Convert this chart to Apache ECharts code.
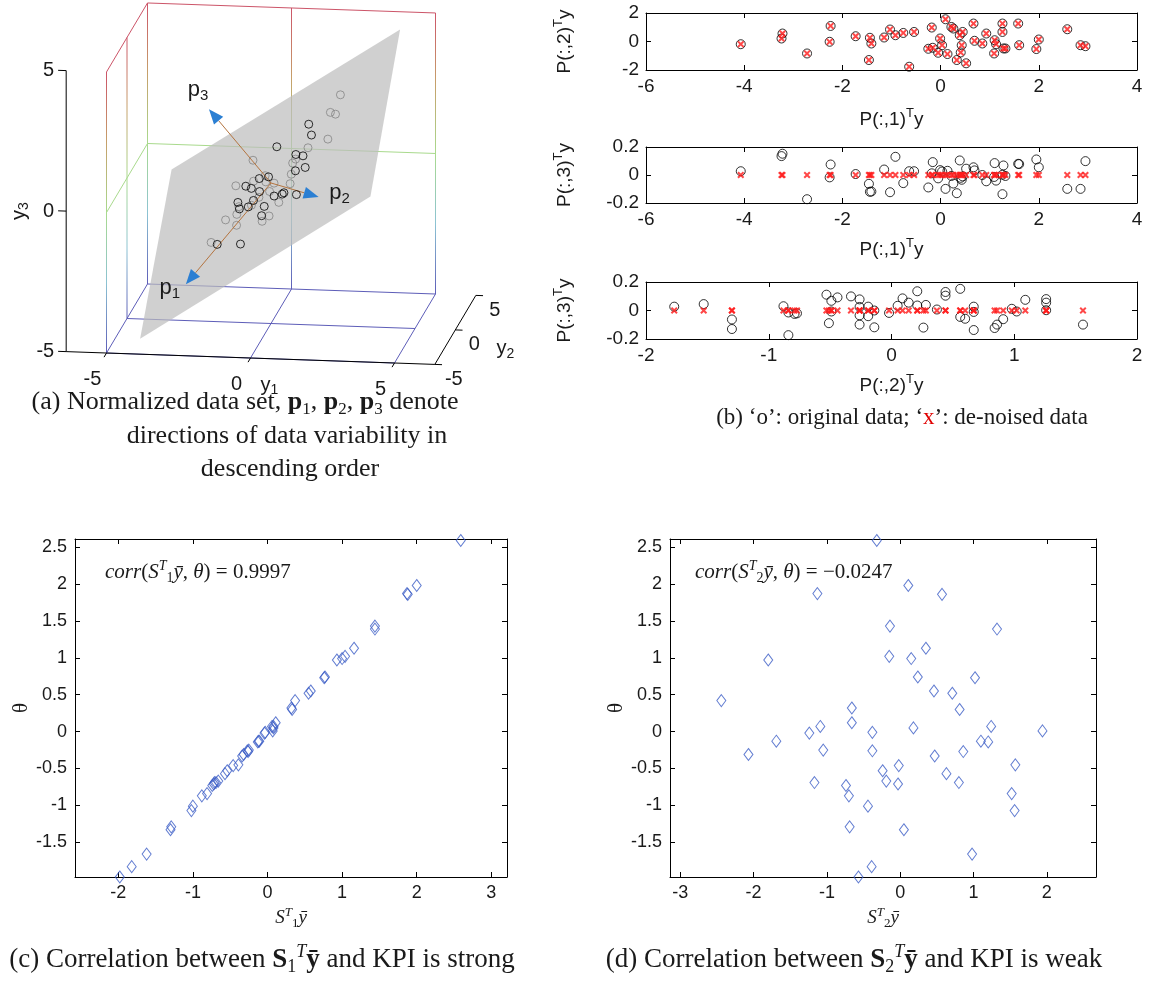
<!DOCTYPE html>
<html><head><meta charset="utf-8">
<script src="https://cdn.jsdelivr.net/npm/echarts@6/dist/echarts.min.js"></script>
<style>html,body{margin:0;padding:0;background:#fff}#c{width:1150px;height:983px}</style>
</head><body><div id="c"></div>
<script>
// ================= DATA =================
// Panel (b): principal-component scores of every sample: P(:,1)'y, P(:,2)'y, P(:,3)'y
const score1 = [-4.07,-3.22,-3.24,-2.72,-2.24,-2.26,-1.73,-1.44,-1.41,-1.46,-1.15,-1.03,-0.92,-0.76,-0.54,-0.64,-0.18,-0.25,-0.16,-0.05,-0.01,0.03,0.10,0.14,0.22,0.26,0.39,0.45,0.43,0.41,0.33,0.52,0.67,0.69,0.85,0.93,1.10,1.13,1.09,1.26,1.26,1.28,1.32,1.58,1.60,1.95,2.00,2.58,2.85,2.95];
const score2 = [-0.19,0.56,0.21,-0.84,1.09,-0.02,0.37,0.26,-0.14,-1.30,0.28,0.84,0.44,0.60,0.67,-1.77,0.98,-0.51,-0.44,-0.79,0.21,-0.26,1.56,-0.88,1.02,0.91,0.44,0.67,-0.26,-0.77,-1.30,-1.53,1.26,0.05,-0.14,0.56,0.09,-0.19,-0.84,1.26,0.67,-0.49,-0.49,1.26,-0.26,-0.53,0.14,0.86,-0.26,-0.33];
const score3 = [0.027,0.152,0.135,-0.173,0.075,-0.017,0.007,-0.120,-0.118,-0.063,0.039,-0.123,0.130,-0.058,0.027,0.027,0.012,-0.089,0.092,-0.024,0.035,0.025,-0.099,0.030,-0.007,-0.061,0.104,-0.010,-0.034,-0.020,-0.130,0.045,0.055,0.033,0.000,-0.045,0.085,-0.040,-0.014,0.002,-0.137,0.068,-0.007,0.080,0.078,0.111,0.055,-0.099,-0.099,0.099];
// Panel (a): principal directions (unit vectors in y1,y2,y3 space), arrow lengths, plane patch corners (p1,p2 coords)
const dirP1 = [-0.547,-0.530,-0.648];
const dirP2 = [0.675,-0.736,0.032];
const dirP3 = [-0.494,-0.420,0.761];
const arrowLen = [4.75,2.9,3.89];
const planeCorners = [[-7.2,0],[-0.6,5.4],[7.3,0],[0.6,-5.4]];
const cubeLimits = [-5,5];
const y1AxisLimits = [-6.4,6.4];
const ticks3D = [-5,0,5];
// Panel (b) ticks
const tickB1x = [-6,-4,-2,0,2,4], tickB1y = [-2,0,2], tickB2y = [-0.2,0,0.2], tickB3x = [-2,-1,0,1,2];
// Panels (c),(d): KPI theta, S1'ybar and S2'ybar of each sample
const theta = [2.59,1.98,1.87,1.86,1.43,1.39,1.13,1.02,0.99,0.97,0.74,0.73,0.55,0.52,0.42,0.32,0.30,0.12,0.07,0.07,0.05,0.01,-0.01,-0.02,-0.13,-0.13,-0.14,-0.25,-0.26,-0.27,-0.31,-0.33,-0.45,-0.46,-0.53,-0.57,-0.67,-0.69,-0.69,-0.71,-0.73,-0.84,-0.87,-1.01,-1.07,-1.29,-1.33,-1.66,-1.83,-1.97];
const s1y = [2.59,2.00,1.87,1.88,1.44,1.44,1.16,1.04,1.00,0.93,0.77,0.76,0.58,0.55,0.37,0.32,0.33,0.11,0.08,0.06,0.08,0.07,-0.03,-0.04,-0.12,-0.11,-0.13,-0.25,-0.27,-0.26,-0.32,-0.34,-0.39,-0.46,-0.54,-0.57,-0.66,-0.69,-0.71,-0.72,-0.74,-0.81,-0.88,-1.00,-1.02,-1.29,-1.30,-1.62,-1.82,-1.98];
const s2y = [-0.32,0.11,-1.13,0.57,-0.14,1.32,0.35,-0.15,0.15,-1.80,0.24,1.02,0.46,0.71,-2.44,-0.66,0.81,-0.66,-1.09,1.24,0.18,1.94,-0.38,-1.24,-1.69,1.10,1.20,-1.05,-0.38,0.86,-2.07,0.47,1.57,-0.02,-0.24,0.63,-0.19,-1.17,0.80,-0.03,-0.74,1.52,-0.70,-0.44,1.56,-0.69,0.05,0.98,-0.39,-0.57];
const tickCx = [-2,-1,0,1,2,3], tickDx = [-3,-2,-1,0,1,2], tickTheta = [-1.5,-1,-0.5,0,0.5,1,1.5,2,2.5];

// ================= HELPERS =================
const SANS = '"Liberation Sans", Arial, sans-serif';
const SERIF = '"Liberation Serif", "Times New Roman", serif';
const INK = '#1a1a1a';
// 3-D view (orthographic): y-space -> view-plane coordinates (u, w)
function proj(v){ return [v[0] + 0.1424*v[1], -0.0356*v[0] + 0.2456*v[1] + v[2]]; }
function comb(a,b,c){ return [0,1,2].map(i => a*dirP1[i] + b*dirP2[i] + c*dirP3[i]); }
const zStops = [[5,'#cc5468'],[2.5,'#c6a06a'],[0,'#a9da8d'],[-2.5,'#8cc3d3'],[-5,'#5d5db8']];
function zColor(z){ let best = zStops[0]; zStops.forEach(s => { if (Math.abs(s[0]-z) < Math.abs(best[0]-z)) best = s; }); return best[1]; }

const grids = [], xAxes = [], yAxes = [], series = [];
function mkAxis(gi, pos, o, main, isX){
  return {
    type:'value', gridIndex:gi, position:pos, min:o.min, max:o.max,
    splitLine:{show:false},
    axisLine:{show:true, onZero:false, lineStyle:{color:'#000', width:1}},
    axisTick:{show:true, inside:true, length:5, customValues:o.ticks, lineStyle:{color:'#000'}},
    axisLabel:{show:main, customValues:o.ticks, color:INK, fontFamily:SANS, fontSize:o.fs, margin:o.margin},
    name: main ? o.name : '', nameLocation:'middle', nameGap:o.nameGap||0,
    nameRotate: isX ? 0 : 90,
    nameTextStyle: o.nameStyle || {}
  };
}
function addBox(grid, xo, yo){
  const gi = grids.length; grids.push(Object.assign({containLabel:false}, grid));
  const xi = xAxes.length, yi = yAxes.length;
  xAxes.push(mkAxis(gi,'bottom',xo,true,true), mkAxis(gi,'top',xo,false,true));
  yAxes.push(mkAxis(gi,'left',yo,true,false), mkAxis(gi,'right',yo,false,false));
  return {xi, yi};
}
const supRich = {
  t:{fontFamily:SANS, fontSize:19, lineHeight:26, verticalAlign:'middle', color:INK},
  s:{fontFamily:SANS, fontSize:13, lineHeight:13, verticalAlign:'top', color:INK}
};
const pName = (a) => '{t|P(:,' + a + ')}{s|T}{t|y}';
const xMark = 'path://M0,2L2,0L5,3L8,0L10,2L7,5L10,8L8,10L5,7L2,10L0,8L3,5Z';

// ================= PANEL (a) =================
grids.push({left:0, top:0, width:540, height:400});
xAxes.push({type:'value', gridIndex:0, min:-9.41, max:9.34, show:false});
yAxes.push({type:'value', gridIndex:0, min:-7.722, max:6.512, show:false});
const [L0,L1] = cubeLimits, LM = (L0+L1)/2;
const cubeSegs = [
  [L0,L0,L0, L0,L0,L1],[L0,L1,L0, L0,L1,L1],[L1,L1,L0, L1,L1,L1],[L0,LM,L0, L0,LM,L1],[LM,L1,L0, LM,L1,L1],
  [L0,L0,L1, L0,L1,L1],[L0,L1,L1, L1,L1,L1],
  [L0,L0,LM, L0,L1,LM],[L0,L1,LM, L1,L1,LM],
  [L0,L0,L0, L1,L0,L0],[L1,L0,L0, L1,L1,L0],[L1,L1,L0, L0,L1,L0],[L0,L1,L0, L0,L0,L0],[LM,L0,L0, LM,L1,L0],[L0,LM,L0, L1,LM,L0]
];
series.push({
  type:'custom', z:1, xAxisIndex:0, yAxisIndex:0, silent:true, clip:false, data:cubeSegs,
  renderItem:(p, api) => {
    const s = cubeSegs[p.dataIndex];
    const a = api.coord(proj([s[0],s[1],s[2]])), b = api.coord(proj([s[3],s[4],s[5]]));
    let stroke;
    if (s[2] !== s[5]) {
      const stops = zStops.map(z => ({offset:(z[0]-s[2])/(s[5]-s[2]), color:z[1]})).sort((m,n)=>m.offset-n.offset);
      stroke = new echarts.graphic.LinearGradient(a[0],a[1],b[0],b[1],stops,true);
    } else stroke = zColor(s[2]);
    return {type:'line', shape:{x1:a[0],y1:a[1],x2:b[0],y2:b[1]}, style:{stroke, lineWidth:1}};
  }
});
// samples on the far side of the p1-p2 plane (positive p3 score, seen through the plane) vs. near side
const ptsBack = [], ptsFront = [];
score1.forEach((s,i) => { const q = proj(comb(s, score2[i], score3[i])); (score3[i] > 0 ? ptsBack : ptsFront).push(q); });
const circStyle = {color:'rgba(0,0,0,0)', borderColor:'#000', borderWidth:1};
series.push({type:'scatter', z:2, xAxisIndex:0, yAxisIndex:0, data:ptsBack, symbol:'circle', symbolSize:8, itemStyle:circStyle, silent:true, clip:false});
series.push({
  type:'custom', z:3, xAxisIndex:0, yAxisIndex:0, silent:true, clip:false, data:[[0,0]],
  renderItem:(p, api) => ({type:'polygon', shape:{points: planeCorners.map(c => api.coord(proj(comb(c[0],c[1],0))))},
    style:{fill:'#bcbcbc', opacity:0.7}})
});
const arrowDirs = [dirP1, dirP2, dirP3];
const arrowLabelOff = [[-16,4],[21,-4],[-11,-19]];
series.push({
  type:'custom', z:4, xAxisIndex:0, yAxisIndex:0, silent:true, clip:false, data:[[0,0],[0,0],[0,0]],
  renderItem:(p, api) => {
    const k = p.dataIndex, d = arrowDirs[k], L = arrowLen[k];
    const O = api.coord(proj([0,0,0])), T = api.coord(proj(d.map(v => v*L)));
    const dx = T[0]-O[0], dy = T[1]-O[1], len = Math.hypot(dx,dy), ux = dx/len, uy = dy/len;
    const B = [T[0]-15*ux, T[1]-15*uy], nx = -uy, ny = ux;
    const lab = arrowLabelOff[k];
    return {type:'group', children:[
      {type:'line', shape:{x1:O[0],y1:O[1],x2:B[0],y2:B[1]}, style:{stroke:'#b4743f', lineWidth:1}},
      {type:'polygon', shape:{points:[T,[B[0]+6*nx,B[1]+6*ny],[B[0]-6*nx,B[1]-6*ny]]}, style:{fill:'#2b7fd3'}},
      {type:'text', x:T[0]+lab[0], y:T[1]+lab[1], style:{text:'{a|p}{b|' + (k+1) + '}', align:'center', verticalAlign:'middle',
        rich:{a:{fontFamily:SANS, fontSize:22, lineHeight:26, verticalAlign:'middle', fill:INK},
              b:{fontFamily:SANS, fontSize:15, lineHeight:15, verticalAlign:'bottom', fill:INK}}}}
    ]};
  }
});
series.push({type:'scatter', z:5, xAxisIndex:0, yAxisIndex:0, data:ptsFront, symbol:'circle', symbolSize:8, itemStyle:circStyle, silent:true, clip:false});
series.push({
  type:'custom', z:6, xAxisIndex:0, yAxisIndex:0, silent:true, clip:false, data:[[0,0]],
  renderItem:(p, api) => {
    const P = v => api.coord(proj(v));
    const ch = [];
    const line = (a,b) => ch.push({type:'line', shape:{x1:a[0],y1:a[1],x2:b[0],y2:b[1]}, style:{stroke:'#000', lineWidth:1}});
    const text = (t, x, y, al) => ch.push({type:'text', x, y, style:{text:t, align:al, verticalAlign:'middle', fontFamily:SANS, fontSize:20, fill:INK}});
    const [a0,a1] = y1AxisLimits, c0 = cubeLimits[0], c1 = cubeLimits[1];
    line(P([a0,c0,c0]), P([a1,c0,c0]));
    line(P([a0,c0,c0]), P([a0,c0,c1]));
    line(P([a1,c0,c0]), P([a1,c1,c0]));
    ticks3D.forEach(t => {
      line(P([t,c0,c0]), P([t,c0-0.6,c0]));
      line(P([a0,c0,t]), P([a0-0.28,c0,t]));
      line(P([a1,t,c0]), P([a1+0.25,t,c0]));
      const q1 = P([t,c0,c0]); text(String(t), q1[0]-14, q1[1]+26, 'center');
      const q3 = P([a0,c0,t]); text(String(t), q3[0]-12, q3[1], 'right');
      const q2 = P([a1,t,c0]); text(String(t), q2[0]+19, q2[1]+15, 'center');
    });
    const rich = {a:{fontFamily:SANS, fontSize:20, lineHeight:24, verticalAlign:'middle', fill:INK},
                  b:{fontFamily:SANS, fontSize:14, lineHeight:14, verticalAlign:'bottom', fill:INK}};
    const t1 = P([0,c0,c0]); ch.push({type:'text', x:t1[0]+19, y:t1[1]+27, style:{text:'{a|y}{b|1}', rich, align:'center', verticalAlign:'middle'}});
    const t2 = P([a1,0,c0]); ch.push({type:'text', x:t2[0]+50, y:t2[1]+19, style:{text:'{a|y}{b|2}', rich, align:'center', verticalAlign:'middle'}});
    const t3 = P([a0,c0,0]); ch.push({type:'text', x:t3[0]-47, y:t3[1], rotation:Math.PI/2, style:{text:'{a|y}{b|3}', rich, align:'center', verticalAlign:'middle'}});
    return {type:'group', children:ch};
  }
});

// ================= PANEL (b) =================
const bX1 = {min:-6, max:4, ticks:tickB1x, fs:19, margin:7, name:pName(1), nameGap:34, nameStyle:{rich:supRich}};
const bX3 = {min:-2, max:2, ticks:tickB3x, fs:19, margin:7, name:pName(2), nameGap:34, nameStyle:{rich:supRich}};
const b1 = addBox({left:646, top:13, width:491, height:57}, Object.assign({}, bX1, {nameGap:37}), {min:-2, max:2, ticks:tickB1y, fs:19, margin:7, name:pName(2), nameGap:68, nameStyle:{rich:supRich}});
const b2 = addBox({left:646, top:147, width:491, height:56}, bX1, {min:-0.2, max:0.2, ticks:tickB2y, fs:19, margin:7, name:pName(3), nameGap:68, nameStyle:{rich:supRich}});
const b3 = addBox({left:646, top:282, width:491, height:57}, bX3, {min:-0.2, max:0.2, ticks:tickB2y, fs:19, margin:7, name:pName(3), nameGap:68, nameStyle:{rich:supRich}});
const circB = {type:'scatter', symbol:'circle', symbolSize:9, itemStyle:circStyle, silent:true, clip:false};
const crossB = {type:'scatter', symbol:xMark, symbolSize:7, itemStyle:{color:'#ff1a1a'}, silent:true, clip:false, z:3};
series.push(Object.assign({}, circB, {xAxisIndex:b1.xi, yAxisIndex:b1.yi, data:score1.map((s,i)=>[s,score2[i]])}));
series.push(Object.assign({}, crossB, {xAxisIndex:b1.xi, yAxisIndex:b1.yi, data:score1.map((s,i)=>[s,score2[i]])}));
series.push(Object.assign({}, circB, {xAxisIndex:b2.xi, yAxisIndex:b2.yi, data:score1.map((s,i)=>[s,score3[i]])}));
series.push(Object.assign({}, crossB, {xAxisIndex:b2.xi, yAxisIndex:b2.yi, data:score1.map(s=>[s,0])}));
series.push(Object.assign({}, circB, {xAxisIndex:b3.xi, yAxisIndex:b3.yi, data:score2.map((s,i)=>[s,score3[i]])}));
series.push(Object.assign({}, crossB, {xAxisIndex:b3.xi, yAxisIndex:b3.yi, data:score2.map(s=>[s,0])}));

// ================= PANELS (c),(d) =================
const serifRich = {
  i:{fontFamily:SERIF, fontStyle:'italic', fontSize:19, lineHeight:24, verticalAlign:'middle', color:INK},
  p:{fontFamily:SERIF, fontStyle:'italic', fontSize:13, lineHeight:12, verticalAlign:'top', color:INK},
  s:{fontFamily:SERIF, fontSize:13, lineHeight:12, verticalAlign:'bottom', color:INK}
};
const thetaName = {fontFamily:SERIF, fontSize:21, color:INK};
const yTheta = {min:-1.97, max:2.61, ticks:tickTheta, fs:18, margin:8, name:'θ', nameGap:43, nameStyle:thetaName};
const c = addBox({left:75, top:539, width:432, height:338},
  {min:-2.58, max:3.21, ticks:tickCx, fs:18, margin:7, name:'{i|S}{p|T}{s|1}{i|ȳ}', nameGap:29, nameStyle:{rich:serifRich}}, yTheta);
const d = addBox({left:670, top:539, width:426, height:338},
  {min:-3.14, max:2.67, ticks:tickDx, fs:18, margin:7, name:'{i|S}{p|T}{s|2}{i|ȳ}', nameGap:29, nameStyle:{rich:serifRich}}, yTheta);
const diamond = {type:'scatter', symbol:'diamond', symbolSize:[9,12], itemStyle:{color:'rgba(0,0,0,0)', borderColor:'#3b5cc6', borderWidth:1}, silent:true, clip:false};
series.push(Object.assign({}, diamond, {xAxisIndex:c.xi, yAxisIndex:c.yi, data:s1y.map((x,i)=>[x,theta[i]])}));
series.push(Object.assign({}, diamond, {xAxisIndex:d.xi, yAxisIndex:d.yi, data:s2y.map((x,i)=>[x,theta[i]])}));

// ================= TEXT (captions & annotations) =================
const mkCapRich = (fs) => ({
  r:{fontFamily:SERIF, fontSize:fs, lineHeight:fs+6, verticalAlign:'middle', fill:INK},
  b:{fontFamily:SERIF, fontSize:fs, fontWeight:'bold', lineHeight:fs+6, verticalAlign:'middle', fill:INK},
  s:{fontFamily:SERIF, fontSize:Math.round(fs*0.65), lineHeight:Math.round(fs*0.65), verticalAlign:'bottom', fill:INK},
  p:{fontFamily:SERIF, fontSize:Math.round(fs*0.65), fontStyle:'italic', lineHeight:Math.round(fs*0.65), verticalAlign:'top', fill:INK},
  red:{fontFamily:SERIF, fontSize:fs, lineHeight:fs+6, verticalAlign:'middle', fill:'#e00000'}
});
const annRich = {
  i:{fontFamily:SERIF, fontStyle:'italic', fontSize:21, lineHeight:26, verticalAlign:'middle', fill:INK},
  n:{fontFamily:SERIF, fontSize:21, lineHeight:26, verticalAlign:'middle', fill:INK},
  p:{fontFamily:SERIF, fontStyle:'italic', fontSize:14, lineHeight:13, verticalAlign:'top', fill:INK},
  s:{fontFamily:SERIF, fontSize:14, lineHeight:13, verticalAlign:'bottom', fill:INK}
};
const txt = (x, y, text, rich, align) => ({type:'text', x, y, silent:true, style:{text, rich, align:align||'center', verticalAlign:'middle'}});
const capA = mkCapRich(26), capB = mkCapRich(23), capCD = mkCapRich(27);
const graphics = [
  txt(245, 402, '{r|(a) Normalized data set, }{b|p}{s|1}{r|, }{b|p}{s|2}{r|, }{b|p}{s|3}{r| denote}', capA),
  txt(287, 436, '{r|directions of data variability in}', capA),
  txt(290, 469, '{r|descending order}', capA),
  txt(902, 418, '{r|(b) ‘o’: original data; ‘}{red|x}{r|’: de-noised data}', capB),
  txt(262, 960, '{r|(c) Correlation between }{b|S}{s|1}{p|T}{b|ȳ}{r| and KPI is strong}', capCD),
  txt(854, 960, '{r|(d) Correlation between }{b|S}{s|2}{p|T}{b|ȳ}{r| and KPI is weak}', capCD),
  txt(105, 572, '{i|corr}{n|(}{i|S}{p|T}{s|1}{i|ȳ}{n|, }{i|θ}{n|) = 0.9997}', annRich, 'left'),
  txt(695, 572, '{i|corr}{n|(}{i|S}{p|T}{s|2}{i|ȳ}{n|, }{i|θ}{n|) = −0.0247}', annRich, 'left')
];

const chart = echarts.init(document.getElementById('c'), null, {renderer:'canvas', width:1150, height:983});
chart.setOption({
  animation:false, backgroundColor:'#ffffff',
  grid:grids, xAxis:xAxes, yAxis:yAxes, series, graphic:graphics
});
</script></body></html>
